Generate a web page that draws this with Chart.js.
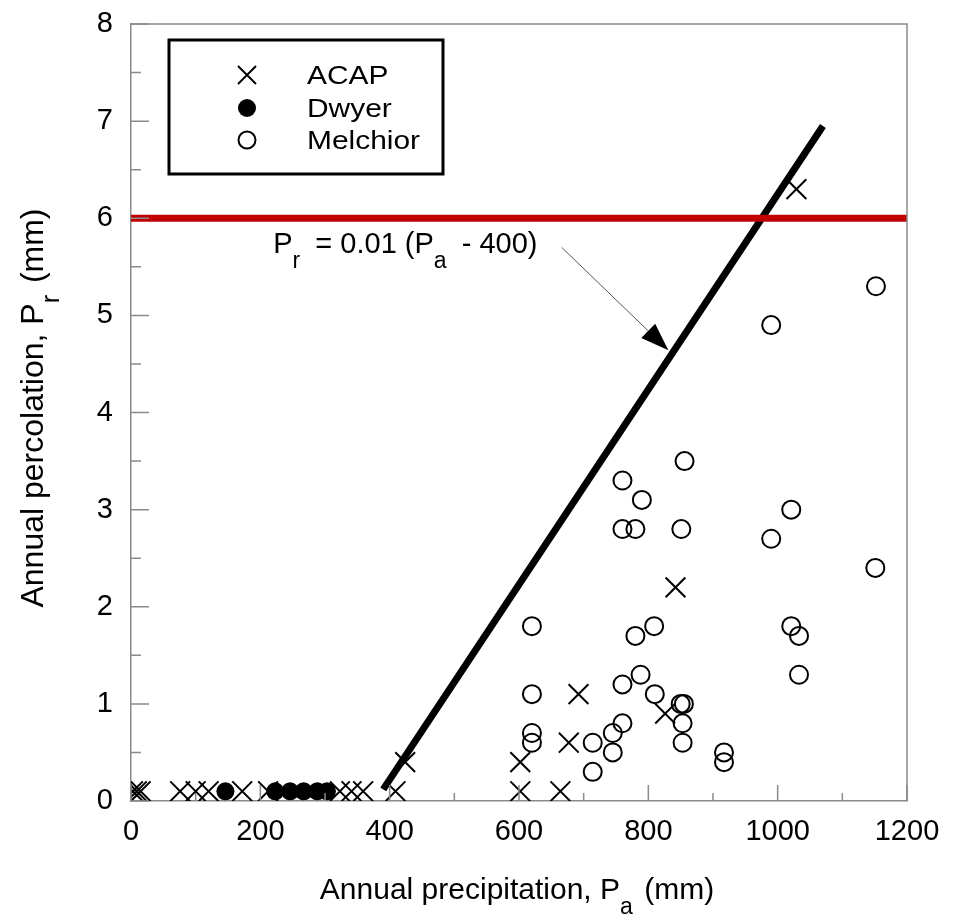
<!DOCTYPE html>
<html>
<head>
<meta charset="utf-8">
<script src="https://cdn.jsdelivr.net/npm/chart.js@4.4.1/dist/chart.umd.min.js"></script>
<style>
  html, body { margin: 0; padding: 0; background: #fff; }
  #wrap { width: 957px; height: 914px; }
</style>
</head>
<body>
<div id="wrap"><canvas id="chart" width="957" height="914"></canvas></div>
<script>
// Percolación anual vs. precipitación anual: ACAP, Dwyer, Melchior.
const FONT = "'Liberation Sans', Arial, sans-serif";
const AXIS_GREY = '#8a8a8a';

const X_TICKS = [0, 200, 400, 600, 800, 1000, 1200];
const Y_TICKS = [0, 1, 2, 3, 4, 5, 6, 7, 8];

const acapX = [3, 9, 15, 76, 100, 120, 172, 212, 323, 341, 359, 409, 424, 602, 602, 664, 677, 692, 826, 842, 1029];
const acapY = [0.1, 0.1, 0.1, 0.1, 0.1, 0.1, 0.1, 0.1, 0.1, 0.1, 0.1, 0.1, 0.4, 0.1, 0.4, 0.1, 0.6, 1.1, 0.9, 2.2, 6.3];

const dwyerX = [146, 223, 246, 267, 288, 303];
const dwyerY = [0.1, 0.1, 0.1, 0.1, 0.1, 0.1];

const melchiorX = [620, 620, 620, 620, 714, 714, 745, 745, 760, 760, 760, 760, 780, 780, 788, 790, 809, 810,
  850, 851, 853, 853, 855, 856, 917, 917, 990, 990, 1021, 1021, 1033, 1033, 1151, 1152];
const melchiorY = [1.8, 1.1, 0.7, 0.6, 0.6, 0.3, 0.7, 0.5, 3.3, 2.8, 1.2, 0.8, 1.7, 2.8, 1.3, 3.1, 1.8, 1.1,
  1.0, 2.8, 0.8, 0.6, 1.0, 3.5, 0.5, 0.4, 4.9, 2.7, 3.0, 1.8, 1.7, 1.3, 2.4, 5.3];

// recta Pr = 0.01 (Pa - 400) tal como está dibujada
const fitX = [390, 1070];
const fitY = [0.12, 6.95];

// límite horizontal (rojo)
const limitX = [0, 1200];
const limitY = [6, 6];

const zip = (xs, ys) => xs.map((x, i) => ({ x, y: ys[i] }));

// texto con subíndices: partes [texto, esSubindice]; hueco extra tras cada subíndice
function drawRich(ctx, parts, x, y, size, subGap = 0) {
  let cx = x;
  parts.forEach(([t, sub]) => {
    ctx.font = `${sub ? Math.round(size * 0.78) : size}px ${FONT}`;
    ctx.fillText(t, cx, sub ? y + size * 0.5 : y);
    cx += ctx.measureText(t).width + (sub ? subGap : 0);
  });
  return cx - x;
}
function richWidth(ctx, parts, size, subGap = 0) {
  let w = 0;
  parts.forEach(([t, sub]) => {
    ctx.font = `${sub ? Math.round(size * 0.78) : size}px ${FONT}`;
    w += ctx.measureText(t).width + (sub ? subGap : 0);
  });
  return w;
}

const decorPlugin = {
  id: 'decor',
  afterDatasetsDraw(chart) {
    const { ctx, chartArea: a, scales: { x, y } } = chart;
    ctx.save();
    // marco superior y derecho
    ctx.strokeStyle = AXIS_GREY;
    ctx.lineWidth = 1.5;
    ctx.beginPath();
    ctx.moveTo(a.left, a.top); ctx.lineTo(a.right, a.top); ctx.lineTo(a.right, a.bottom);
    ctx.stroke();
    // marcas hacia dentro
    ctx.beginPath();
    for (let v = 0; v <= 8; v += 0.5) {
      const py = y.getPixelForValue(v);
      const len = Number.isInteger(v) ? 18 : 10;
      ctx.moveTo(a.left, py); ctx.lineTo(a.left + len, py);
    }
    for (let v = 0; v <= 1200; v += 100) {
      const px = x.getPixelForValue(v);
      const len = v % 200 === 0 ? 16 : 8;
      ctx.moveTo(px, a.bottom); ctx.lineTo(px, a.bottom - len);
    }
    ctx.stroke();
    ctx.restore();
  },
  afterDraw(chart) {
    const { ctx, chartArea: a, scales: { x, y } } = chart;
    ctx.save();
    ctx.fillStyle = '#000';
    ctx.textBaseline = 'alphabetic';
    ctx.textAlign = 'left';

    // títulos de ejes
    const xt = [['Annual precipitation, P', false], ['a', true], [' (mm)', false]];
    const xw = richWidth(ctx, xt, 30, 3);
    drawRich(ctx, xt, 517 - xw / 2, 899, 30, 3);

    const yt = [['Annual percolation, P', false], ['r', true], [' (mm)', false]];
    const yw = richWidth(ctx, yt, 32, 3);
    ctx.save();
    ctx.translate(43, 408);
    ctx.rotate(-Math.PI / 2);
    drawRich(ctx, yt, -yw / 2, 0, 32, 3);
    ctx.restore();

    // ecuación + flecha
    const eq = [['P', false], ['r', true], [' = 0.01 (P', false], ['a', true], [' - 400)', false]];
    drawRich(ctx, eq, x.getPixelForValue(220), y.getPixelForValue(5.64), 29, 7);

    const x0 = x.getPixelForValue(666), y0 = y.getPixelForValue(5.70);
    const x1 = x.getPixelForValue(831), y1 = y.getPixelForValue(4.64);
    const ang = Math.atan2(y1 - y0, x1 - x0);
    const hl = 28, hw = 10;
    const bx = x1 - Math.cos(ang) * hl, by = y1 - Math.sin(ang) * hl;
    ctx.strokeStyle = '#555';
    ctx.lineWidth = 1;
    ctx.beginPath(); ctx.moveTo(x0, y0); ctx.lineTo(bx, by); ctx.stroke();
    ctx.beginPath();
    ctx.moveTo(x1, y1);
    ctx.lineTo(bx + Math.sin(ang) * hw, by - Math.cos(ang) * hw);
    ctx.lineTo(bx - Math.sin(ang) * hw, by + Math.cos(ang) * hw);
    ctx.closePath();
    ctx.fill();

    // leyenda
    ctx.fillStyle = '#fff';
    ctx.fillRect(169, 40, 274, 134);
    ctx.strokeStyle = '#000';
    ctx.lineWidth = 3;
    ctx.strokeRect(169, 40, 274, 134);
    const rows = [
      { label: 'ACAP', cy: 75, kind: 'x' },
      { label: 'Dwyer', cy: 108, kind: 'dot' },
      { label: 'Melchior', cy: 140, kind: 'ring' },
    ];
    const sx = 247;
    rows.forEach((r) => {
      ctx.strokeStyle = '#000';
      ctx.fillStyle = '#000';
      ctx.lineWidth = 2;
      ctx.beginPath();
      if (r.kind === 'x') {
        ctx.moveTo(sx - 9, r.cy - 9); ctx.lineTo(sx + 9, r.cy + 9);
        ctx.moveTo(sx + 9, r.cy - 9); ctx.lineTo(sx - 9, r.cy + 9);
        ctx.stroke();
      } else if (r.kind === 'dot') {
        ctx.arc(sx, r.cy, 9, 0, Math.PI * 2); ctx.fill();
      } else {
        ctx.arc(sx, r.cy, 8.5, 0, Math.PI * 2); ctx.stroke();
      }
      ctx.save();
      ctx.translate(307, r.cy + 9);
      ctx.scale(1.15, 1);
      ctx.font = `26px ${FONT}`;
      ctx.fillText(r.label, 0, 0);
      ctx.restore();
    });
    ctx.restore();
  },
};

const tickFont = { family: FONT, size: 29 };

new Chart(document.getElementById('chart').getContext('2d'), {
  type: 'scatter',
  data: {
    datasets: [
      {
        label: 'ACAP',
        data: zip(acapX, acapY),
        pointStyle: 'crossRot',
        pointRadius: 14,
        pointBorderWidth: 2,
        borderColor: '#000',
        backgroundColor: '#000',
        order: 1,
      },
      {
        label: 'Dwyer',
        data: zip(dwyerX, dwyerY),
        pointStyle: 'circle',
        pointRadius: 9,
        pointBorderWidth: 0,
        borderColor: '#000',
        backgroundColor: '#000',
        order: 2,
      },
      {
        label: 'Melchior',
        data: zip(melchiorX, melchiorY),
        pointStyle: 'circle',
        pointRadius: 9,
        pointBorderWidth: 2,
        borderColor: '#000',
        backgroundColor: 'rgba(0,0,0,0)',
        order: 3,
      },
      {
        type: 'line',
        label: 'Límite',
        data: zip(limitX, limitY),
        borderColor: '#c00000',
        borderWidth: 7,
        pointRadius: 0,
        order: 4,
      },
      {
        type: 'line',
        label: 'Pr = 0.01 (Pa - 400)',
        data: zip(fitX, fitY),
        borderColor: '#000',
        borderWidth: 7,
        pointRadius: 0,
        order: 5,
      },
    ],
  },
  options: {
    responsive: false,
    animation: false,
    layout: { padding: { top: 24, right: 50, left: 0, bottom: 0 } },
    plugins: { legend: { display: false }, tooltip: { enabled: false } },
    scales: {
      x: {
        type: 'linear',
        min: 0,
        max: 1200,
        afterBuildTicks: (s) => { s.ticks = X_TICKS.map((v) => ({ value: v })); },
        afterFit: (s) => { s.height = 113; s.paddingLeft = 0; s.paddingRight = 0; },
        grid: { display: false, drawTicks: false },
        border: { display: true, color: AXIS_GREY, width: 1.5 },
        ticks: { color: '#000', font: tickFont, padding: 14, maxRotation: 0, callback: (v) => String(v) },
      },
      y: {
        type: 'linear',
        min: 0,
        max: 8,
        afterBuildTicks: (s) => { s.ticks = Y_TICKS.map((v) => ({ value: v })); },
        afterFit: (s) => { s.width = 131; s.paddingTop = 0; s.paddingBottom = 0; },
        grid: { display: false, drawTicks: false },
        border: { display: true, color: AXIS_GREY, width: 1.5 },
        ticks: { color: '#000', font: tickFont, padding: 18, callback: (v) => String(v) },
      },
    },
  },
  plugins: [decorPlugin],
});
</script>
</body>
</html>
